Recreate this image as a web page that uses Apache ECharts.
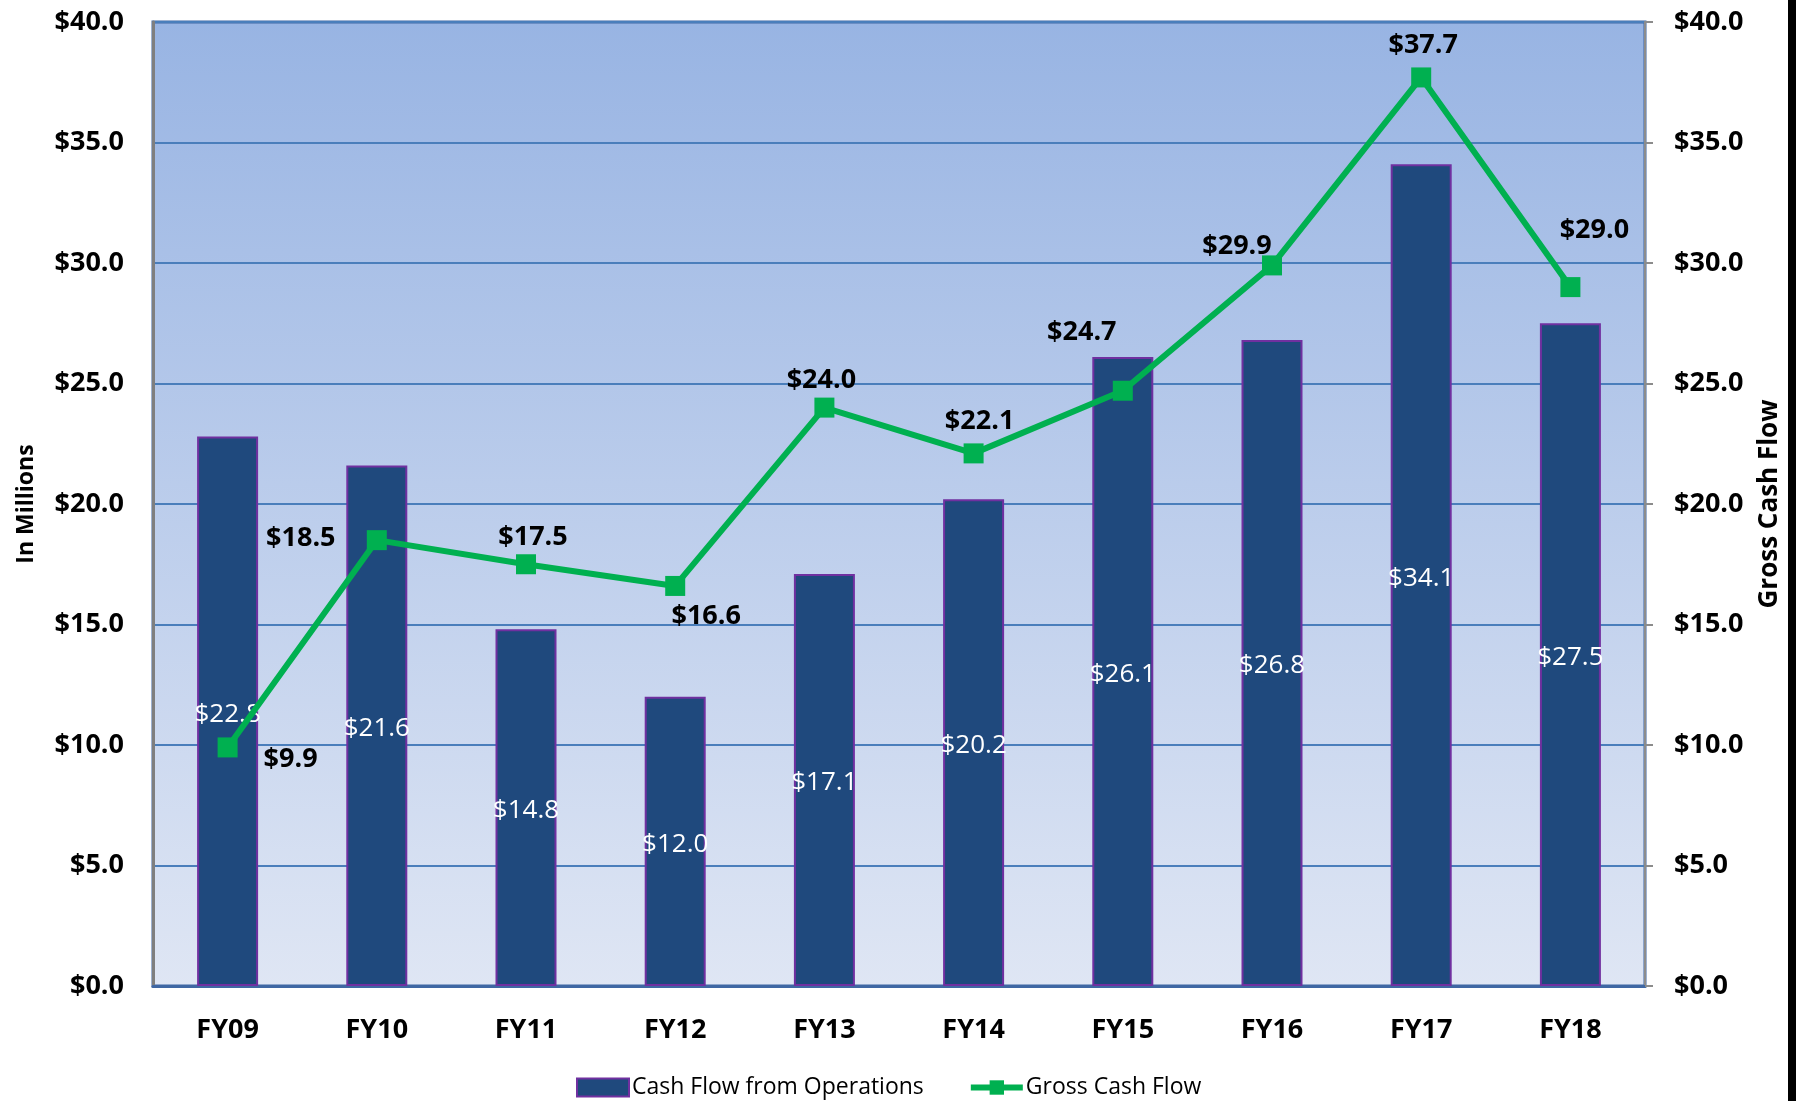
<!DOCTYPE html>
<html>
<head>
<meta charset="utf-8">
<script src="https://cdn.jsdelivr.net/npm/echarts@6/dist/echarts.min.js"></script>
<style>
html,body{margin:0;padding:0;background:#fff;}
#chart{width:1802px;height:1101px;}
</style>
</head>
<body>
<div id="chart"></div>
<script>
const categories = ['FY09','FY10','FY11','FY12','FY13','FY14','FY15','FY16','FY17','FY18'];
const cashFlowOps = [22.8, 21.6, 14.8, 12.0, 17.1, 20.2, 26.1, 26.8, 34.1, 27.5];
const grossCashFlow = [9.9, 18.5, 17.5, 16.6, 24.0, 22.1, 24.7, 29.9, 37.7, 29.0];
const seriesNames = ['Cash Flow from Operations', 'Gross Cash Flow'];
const axisNames = ['In Millions', 'Gross Cash Flow'];

// label placement offsets for line labels (style only)
const lineLabelOffsets = [[63,12],[-76,-2],[7,-27],[31,30],[-3,-27],[6,-32],[-41,-58],[-35,-19],[2,-32],[24,-57]];

const fmt = v => '$' + Number(v).toFixed(1);
const FONT = '"Open Sans", "Noto Sans", sans-serif';

const chart = echarts.init(document.getElementById('chart'), null, {renderer:'canvas'});
chart.setOption({
  animation: false,
  textStyle: { fontFamily: FONT },
  graphic: [{
    type: 'rect', shape: { x: 1788, y: 0, width: 8, height: 1101 },
    style: { fill: '#000' }, z: 100
  }],
  grid: {
    left: 153, right: 157, top: 22, bottom: 115,
    show: true,
    borderColor: '#3F67A3', borderWidth: 3,
    backgroundColor: new echarts.graphic.LinearGradient(0,0,0,1,[
      {offset:0, color:'#98B4E3'},
      {offset:1, color:'#DFE6F4'}
    ])
  },
  legend: {
    left: 571, top: 1071,
    itemWidth: 52, itemHeight: 18, itemGap: 44,
    textStyle: { fontFamily: FONT, fontSize: 23, color: '#000', padding: [0,0,0,-2] },
    data: [
      { name: seriesNames[0], icon: 'rect' },
      { name: seriesNames[1], lineStyle: { width: 6, color: '#00B050' } }
    ]
  },
  xAxis: {
    type: 'category', data: categories,
    axisLine: { show: true, lineStyle: { color: '#3F67A3', width: 3 } },
    axisTick: { show: false },
    axisLabel: { fontFamily: FONT, fontWeight: 'bold', fontSize: 27, color: '#000', margin: 31 }
  },
  yAxis: [{
    type: 'value', min: 0, max: 40, interval: 5,
    name: axisNames[0], nameLocation: 'middle', nameGap: 115, nameRotate: 90,
    nameTextStyle: { fontFamily: FONT, fontWeight: 'bold', fontSize: 23, color: '#000' },
    axisLine: { show: true, lineStyle: { color: '#7F7F7F', width: 3 } },
    axisTick: { show: false },
    axisLabel: { formatter: fmt, fontFamily: FONT, fontWeight: 'bold', fontSize: 27, color: '#000', margin: 29 },
    splitLine: { show: true, lineStyle: { color: '#4A7EBB', width: 2 } }
  },{
    type: 'value', min: 0, max: 40, interval: 5, position: 'right',
    name: axisNames[1], nameLocation: 'middle', nameGap: 112, nameRotate: 90,
    nameTextStyle: { fontFamily: FONT, fontWeight: 'bold', fontSize: 26, color: '#000' },
    axisLine: { show: true, lineStyle: { color: '#8C8C8C', width: 2 } },
    axisTick: { show: true, inside: false, length: 8, lineStyle: { color: '#8C8C8C', width: 2 } },
    axisLabel: { formatter: fmt, fontFamily: FONT, fontWeight: 'bold', fontSize: 27, color: '#000', margin: 29 },
    splitLine: { show: false }
  }],
  series: [{
    name: seriesNames[0], type: 'bar', data: cashFlowOps, barWidth: 61,
    itemStyle: { color: '#1F497D', borderColor: '#7030A0', borderWidth: 2 },
    label: { show: true, position: 'inside', offset: [0, 3], formatter: p => fmt(p.value),
      fontFamily: FONT, fontSize: 26, color: '#fff', fontWeight: 'normal' },
    z: 2
  },{
    name: seriesNames[1], type: 'line', yAxisIndex: 1,
    data: grossCashFlow.map((v,i) => ({
      value: v,
      label: { offset: lineLabelOffsets[i] }
    })),
    symbol: 'rect', symbolSize: 20,
    lineStyle: { color: '#00B050', width: 6 },
    itemStyle: { color: '#00B050' },
    label: { show: true, position: 'inside', formatter: p => fmt(p.value),
      fontFamily: FONT, fontSize: 27, fontWeight: 'bold', color: '#000',
      align: 'center', verticalAlign: 'middle' },
    z: 5
  }]
});
</script>
</body>
</html>
